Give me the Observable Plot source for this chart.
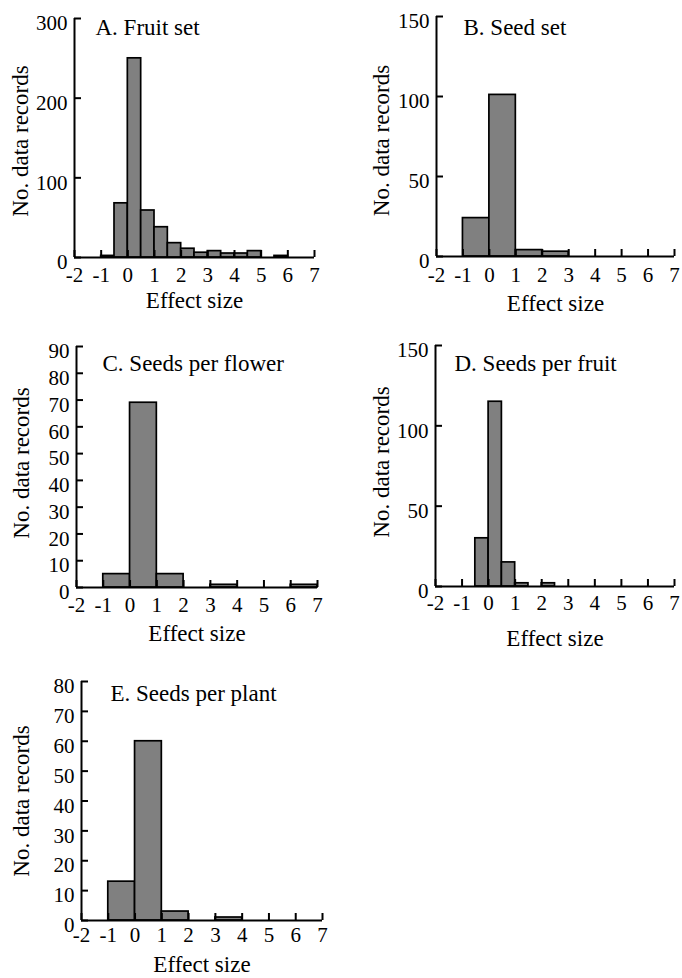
<!DOCTYPE html>
<html><head><meta charset="utf-8">
<script src="https://cdn.jsdelivr.net/npm/d3@7"></script>
<script src="https://cdn.jsdelivr.net/npm/@observablehq/plot@0.6"></script>
<style>
body{margin:0;background:#fff}
#fig{position:relative;width:682px;height:978px;overflow:hidden}
#fig svg{position:absolute}
</style>
</head><body><div id="fig"></div>
<script>
// Shared axis ticks
const xTicks = [-2, -1, 0, 1, 2, 3, 4, 5, 6, 7];
const xLabel = "Effect size";
const yLabel = "No. data records";

// A. Fruit set (bin width 0.5)
const fruitSetBins = [-1, -0.5, 0, 0.5, 1, 1.5, 2, 2.5, 3, 3.5, 4, 4.5, 5.5];
const fruitSetCounts = [2, 68, 250, 59, 38, 18, 11, 6, 8, 5, 5, 8, 2];
const fruitSetYTicks = [0, 100, 200, 300];

// B. Seed set (bin width 1)
const seedSetBins = [-1, 0, 1, 2];
const seedSetCounts = [24, 101, 4, 3];
const seedSetYTicks = [0, 50, 100, 150];

// C. Seeds per flower (bin width 1)
const seedsPerFlowerBins = [-1, 0, 1, 3, 6];
const seedsPerFlowerCounts = [5, 69, 5, 1, 1];
const seedsPerFlowerYTicks = [0, 10, 20, 30, 40, 50, 60, 70, 80, 90];

// D. Seeds per fruit (bin width 0.5)
const seedsPerFruitBins = [-0.5, 0, 0.5, 1, 2];
const seedsPerFruitCounts = [30, 115, 15, 2, 2];
const seedsPerFruitYTicks = [0, 50, 100, 150];

// E. Seeds per plant (bin width 1)
const seedsPerPlantBins = [-1, 0, 1, 3];
const seedsPerPlantCounts = [13, 60, 3, 1];
const seedsPerPlantYTicks = [0, 10, 20, 30, 40, 50, 60, 70, 80];

const panels = [
  {title: "A. Fruit set", bins: fruitSetBins, counts: fruitSetCounts, bw: 0.5, yTicks: fruitSetYTicks,
   left: 0, top: 0, width: 341, height: 320, ml: 74, mr: 27, mt: 18, mb: 63,
   tdx: 21, tdy: 9, xtDy: 18, xlDy: 43, ylDx: -54, ylDy: 3},
  {title: "B. Seed set", bins: seedSetBins, counts: seedSetCounts, bw: 1, yTicks: seedSetYTicks,
   left: 341, top: 0, width: 341, height: 320, ml: 95, mr: 8, mt: 16, mb: 64,
   tdx: 27, tdy: 11, xtDy: 19, xlDy: 47, ylDx: -55, ylDy: 4},
  {title: "C. Seeds per flower", bins: seedsPerFlowerBins, counts: seedsPerFlowerCounts, bw: 1, yTicks: seedsPerFlowerYTicks,
   left: 0, top: 320, width: 341, height: 320, ml: 76, mr: 24, mt: 26, mb: 53,
   tdx: 26, tdy: 17, xtDy: 18, xlDy: 46, ylDx: -55, ylDy: -4},
  {title: "D. Seeds per fruit", bins: seedsPerFruitBins, counts: seedsPerFruitCounts, bw: 0.5, yTicks: seedsPerFruitYTicks,
   left: 341, top: 320, width: 341, height: 320, ml: 94, mr: 8, mt: 25, mb: 54,
   tdx: 19, tdy: 18, xtDy: 17, xlDy: 52, ylDx: -54, ylDy: -4},
  {title: "E. Seeds per plant", bins: seedsPerPlantBins, counts: seedsPerPlantCounts, bw: 1, yTicks: seedsPerPlantYTicks,
   left: 0, top: 640, width: 341, height: 338, ml: 81, mr: 19, mt: 41, mb: 58,
   tdx: 29, tdy: 12, xtDy: 15, xlDy: 44, ylDx: -60, ylDy: 0}
];

const fig = document.getElementById("fig");
for (const p of panels) {
  const fw = p.width - p.ml - p.mr;
  const fh = p.height - p.mt - p.mb;
  const data = p.bins.map((b, i) => ({x1: b, x2: b + p.bw, y: p.counts[i]}));
  const yMax = p.yTicks[p.yTicks.length - 1];
  const chart = Plot.plot({
    width: p.width, height: p.height,
    marginLeft: p.ml, marginRight: p.mr, marginTop: p.mt, marginBottom: p.mb,
    x: {domain: [-2, 7], axis: null},
    y: {domain: [0, yMax], axis: null},
    style: {fontFamily: "'Liberation Serif', 'Times New Roman', serif", background: "transparent", overflow: "visible", color: "#000"},
    marks: [
      Plot.rectY(data, {x1: "x1", x2: "x2", y: "y", fill: "#808080", stroke: "#000", strokeWidth: 1.7}),
      Plot.tickX(xTicks, {x: d => d, insetTop: fh - 7, stroke: "#000", strokeWidth: 2}),
      Plot.tickY(p.yTicks, {y: d => d, insetRight: fw - 7, stroke: "#000", strokeWidth: 2}),
      Plot.ruleY([0], {stroke: "#000", strokeWidth: 2}),
      Plot.ruleX([-2], {stroke: "#000", strokeWidth: 2}),
      Plot.text(xTicks, {x: d => d, frameAnchor: "bottom", dy: p.xtDy, textAnchor: "middle", lineAnchor: "middle", text: d => String(d), fontSize: 21, fill: "#000"}),
      Plot.text(p.yTicks, {y: d => d, frameAnchor: "left", dx: -7, dy: 5, textAnchor: "end", lineAnchor: "middle", text: d => String(d), fontSize: 21, fill: "#000"}),
      Plot.text([p.title], {frameAnchor: "top-left", dx: p.tdx, dy: p.tdy, textAnchor: "start", lineAnchor: "middle", text: d => d, fontSize: 23, fill: "#000"}),
      Plot.text([xLabel], {frameAnchor: "bottom", dy: p.xlDy, textAnchor: "middle", lineAnchor: "middle", text: d => d, fontSize: 23, fill: "#000"}),
      Plot.text([yLabel], {frameAnchor: "left", dx: p.ylDx, dy: p.ylDy, rotate: -90, textAnchor: "middle", lineAnchor: "middle", text: d => d, fontSize: 23, fill: "#000"})
    ]
  });
  chart.style.left = p.left + "px";
  chart.style.top = p.top + "px";
  fig.appendChild(chart);
}
</script>
</body></html>
